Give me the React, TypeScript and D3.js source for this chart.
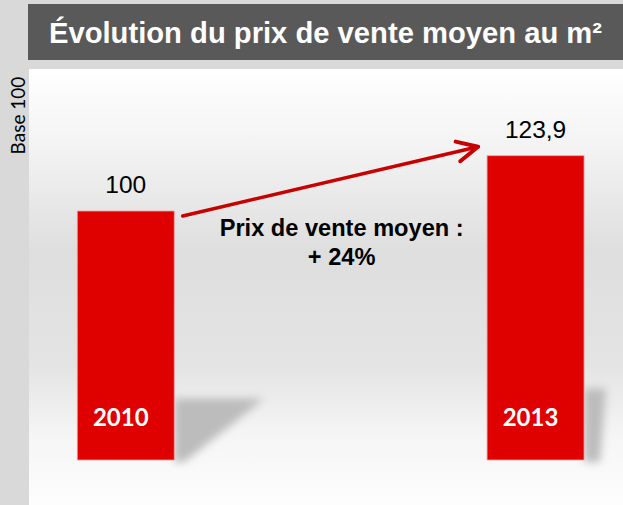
import React from "react";
import * as d3 from "d3";

const categories = ["2010", "2013"];
const values = [100, 123.9];
const valueLabels = ["100", "123,9"];
const title = "Évolution du prix de vente moyen au m²";
const axisNote = "Base 100";
const annotationLines = ["Prix de vente moyen :", "+ 24%"];

const W = 623;
const H = 505;

export default function App() {
  const x = d3
    .scaleBand<string>()
    .domain(categories)
    .range([29, 632.3])
    .paddingInner(0.7634)
    .paddingOuter(0.1178);
  const y = d3.scaleLinear().domain([-7.6, 123.9]).range([460, 155.7]);
  const bw = x.bandwidth();
  const base = y(-7.6);

  // arrow between bar tops
  const x0 = (x(categories[0]) as number) + bw + 8.5;
  const y0 = y(values[0]) + 5;
  const x1 = (x(categories[1]) as number) - 9;
  const y1 = y(values[1]) - 9;
  const len = Math.hypot(x0 - x1, y0 - y1);
  const ux = (x0 - x1) / len;
  const uy = (y0 - y1) / len;
  const rot = (a: number) => {
    const r = (a * Math.PI) / 180;
    return [ux * Math.cos(r) - uy * Math.sin(r), ux * Math.sin(r) + uy * Math.cos(r)];
  };
  const [a1x, a1y] = rot(26);
  const [a2x, a2y] = rot(-26);
  const headLen = 23;
  const shaft = d3.path();
  shaft.moveTo(x0, y0);
  shaft.lineTo(x1, y1);
  const head = d3.path();
  head.moveTo(x1 + a1x * headLen, y1 + a1y * headLen);
  head.lineTo(x1, y1);
  head.lineTo(x1 + a2x * headLen, y1 + a2y * headLen);

  const midX =
    ((x(categories[0]) as number) + bw + (x(categories[1]) as number)) / 2 + 11;

  const shadowTop = y(19);
  const shadowExt = [90, 22];

  return (
    <svg
      width={W}
      height={H}
      style={{ position: "absolute", left: 0, top: 0 }}
      fontFamily="'Liberation Sans', Arial, sans-serif"
    >
      <defs>
        <linearGradient id="panelGrad" x1="0" y1="0" x2="0" y2="1">
          <stop offset="0%" stopColor="#ffffff" />
          <stop offset="18%" stopColor="#f3f3f3" />
          <stop offset="42%" stopColor="#dedede" />
          <stop offset="68%" stopColor="#e4e4e4" />
          <stop offset="85%" stopColor="#f6f6f6" />
          <stop offset="100%" stopColor="#fdfdfd" />
        </linearGradient>
        <filter id="blur" x="-50%" y="-50%" width="200%" height="200%">
          <feGaussianBlur stdDeviation="4.5" />
        </filter>
      </defs>
      <rect x={0} y={0} width={W} height={H} fill="#d9d9d9" />
      <rect x={28} y={4} width={W - 28} height={56} fill="#595959" />
      <text
        x={(28 + W) / 2}
        y={43}
        textAnchor="middle"
        fill="#ffffff"
        fontWeight="bold"
        fontSize={29.2}
      >
        {title}
      </text>
      <rect x={29} y={69} width={W - 29} height={H - 69} fill="url(#panelGrad)" />
      <text
        transform={`translate(25,115.5) rotate(-90)`}
        textAnchor="middle"
        fontFamily="Lato, 'Open Sans', sans-serif"
        fontSize={19}
        fill="#000"
      >
        {axisNote}
      </text>

      {categories.map((c, i) => {
        const bx = x(c) as number;
        const ext = shadowExt[i];
        const pts =
          i === 0
            ? [
                [bx + bw, shadowTop],
                [bx + bw + ext, shadowTop],
                [bx + bw + 10, base + 2],
                [bx + bw, base + 2],
              ]
            : [
                [bx + bw, shadowTop - 10],
                [bx + bw + ext, shadowTop - 10],
                [bx + bw + ext - 6, base + 2],
                [bx + bw, base + 2],
              ];
        return (
          <polygon
            key={"s" + c}
            points={pts.map((p) => p.join(",")).join(" ")}
            fill="#bcbcbc"
            filter="url(#blur)"
          />
        );
      })}

      {categories.map((c, i) => {
        const bx = x(c) as number;
        const top = y(values[i]);
        return (
          <g key={c}>
            <rect
              x={bx}
              y={top}
              width={bw}
              height={base - top}
              fill="#df0000"
              stroke="#f0a0a0"
              strokeWidth={0.8}
            />
            <text
              x={bx + bw / 2}
              y={top - 18}
              textAnchor="middle"
              fontSize={24.5}
              fill="#000"
            >
              {valueLabels[i]}
            </text>
            <text
              x={bx + bw / 2 - 5}
              y={426}
              textAnchor="middle"
              fontFamily="Lato, 'Open Sans', sans-serif"
              fontWeight="bold"
              fontSize={24}
              fill="#ffffff"
            >
              {c}
            </text>
          </g>
        );
      })}

      <path
        d={shaft.toString()}
        fill="none"
        stroke="#c80000"
        strokeWidth={3.5}
        strokeLinecap="round"
      />
      <path
        d={head.toString()}
        fill="none"
        stroke="#c80000"
        strokeWidth={4}
        strokeLinecap="round"
        strokeLinejoin="round"
      />

      {annotationLines.map((t, i) => (
        <text
          key={t}
          x={midX}
          y={236 + i * 29}
          textAnchor="middle"
          fontWeight="bold"
          fontSize={23.6}
          fill="#000"
        >
          {t}
        </text>
      ))}
    </svg>
  );
}
